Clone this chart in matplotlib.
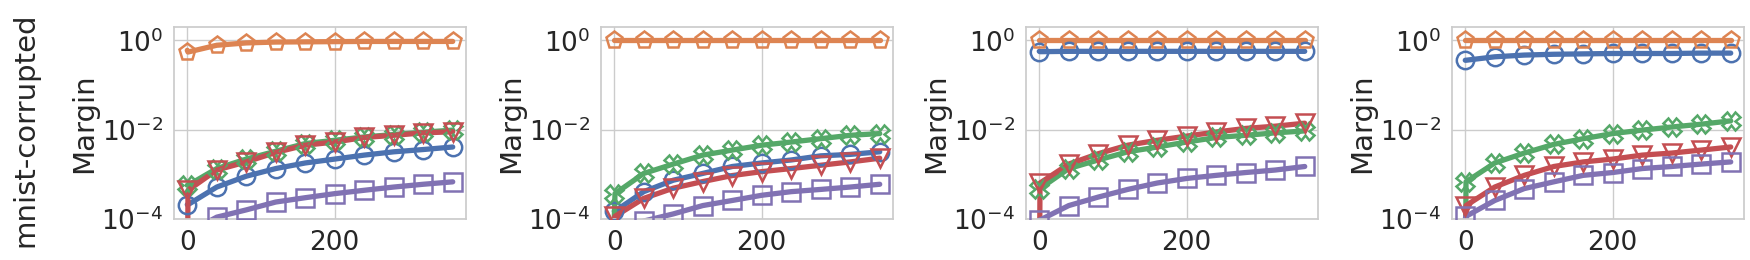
import matplotlib
matplotlib.use("Agg")
import matplotlib.pyplot as plt
import seaborn as sns
import numpy as np

sns.set_theme(style="whitegrid")
plt.rcParams['font.family'] = ['DejaVu Sans']

# marker steps, the line gets one extra point right after step 0
steps = [0, 40, 80, 120, 160, 200, 240, 280, 320, 360]
row_label = "mnist-corrupted"

# values per panel, per series
blue = [
    [2.1e-4, 5.2e-4, 9.1e-4, 1.35e-3, 1.8e-3, 2.2e-3, 2.7e-3, 3.2e-3, 3.6e-3, 4.1e-3],
    [1.5e-4, 4.1e-4, 7.4e-4, 1.05e-3, 1.5e-3, 1.8e-3, 2.1e-3, 2.6e-3, 2.8e-3, 3.2e-3],
    [0.56, 0.57, 0.57, 0.57, 0.57, 0.57, 0.57, 0.57, 0.57, 0.57],
    [0.36, 0.43, 0.47, 0.49, 0.50, 0.51, 0.51, 0.51, 0.52, 0.52],
]
orange = [
    [0.55, 0.78, 0.88, 0.92, 0.93, 0.94, 0.95, 0.95, 0.95, 0.95],
    [1.0, 1.0, 1.0, 1.0, 1.0, 1.0, 1.0, 1.0, 1.0, 1.0],
    [1.0, 1.0, 1.0, 1.0, 1.0, 1.0, 1.0, 1.0, 1.0, 1.0],
    [1.0, 1.0, 1.0, 1.0, 1.0, 1.0, 1.0, 1.0, 1.0, 1.0],
]
green = [
    [5.7e-4, 1.35e-3, 2.2e-3, 3.3e-3, 4.9e-3, 5.8e-3, 6.9e-3, 7.8e-3, 8.8e-3, 9.8e-3],
    [3.7e-4, 1.05e-3, 1.7e-3, 2.7e-3, 3.5e-3, 4.5e-3, 5.3e-3, 6.3e-3, 7.5e-3, 8.2e-3],
    [4.8e-4, 1.35e-3, 2.1e-3, 3.2e-3, 4.1e-3, 5.3e-3, 6.7e-3, 7.5e-3, 8.5e-3, 9.4e-3],
    [6.8e-4, 1.8e-3, 3.0e-3, 4.7e-3, 6.3e-3, 8.2e-3, 9.8e-3, 1.15e-2, 1.33e-2, 1.58e-2],
]
red = [
    [4.4e-4, 1.25e-3, 1.9e-3, 3.1e-3, 4.5e-3, 5.3e-3, 6.7e-3, 7.5e-3, 8.5e-3, 9.0e-3],
    [1.15e-4, 2.9e-4, 4.9e-4, 6.9e-4, 9.4e-4, 1.15e-3, 1.35e-3, 1.6e-3, 1.9e-3, 2.3e-3],
    [6.4e-4, 1.7e-3, 2.9e-3, 4.5e-3, 5.8e-3, 7.2e-3, 8.9e-3, 1.07e-2, 1.2e-2, 1.4e-2],
    [2.0e-4, 5.2e-4, 9.5e-4, 1.5e-3, 1.9e-3, 2.2e-3, 2.7e-3, 3.0e-3, 3.5e-3, 4.1e-3],
]
purple = [
    [5e-5, 1.1e-4, 1.6e-4, 2.4e-4, 3.0e-4, 3.7e-4, 4.4e-4, 5.2e-4, 6.0e-4, 6.8e-4],
    [4e-5, 9e-5, 1.3e-4, 2.0e-4, 2.6e-4, 3.4e-4, 4.1e-4, 4.6e-4, 5.2e-4, 6.0e-4],
    [9.5e-5, 2.0e-4, 3.1e-4, 4.6e-4, 6.4e-4, 8.1e-4, 9.5e-4, 1.1e-3, 1.25e-3, 1.5e-3],
    [1.15e-4, 2.6e-4, 4.8e-4, 6.8e-4, 9.5e-4, 1.1e-3, 1.35e-3, 1.5e-3, 1.7e-3, 1.9e-3],
]
# where the line starts at step 0 (below the axis means it drops off)
line_start = {
    "blue": [2.1e-4, 1.5e-4, 0.57, 0.36],
    "orange": [0.6, 1.0, 1.0, 1.0],
    "green": [5.7e-4, 1e-4, 4.8e-4, 1e-6],
    "red": [1e-6, 1e-4, 1e-6, 1e-6],
    "purple": [5e-5, 4e-5, 9.5e-5, 1.0e-4],
}

pal = sns.color_palette("deep")
series = [
    ("blue", blue, pal[0], "o"),
    ("orange", orange, pal[1], "p"),
    ("green", green, pal[2], "X"),
    ("red", red, pal[3], "v"),
    ("purple", purple, pal[4], "s"),
]

fig = plt.figure(figsize=(17.5, 2.6), dpi=100)
lefts = [174, 601, 1026, 1452]
for i in range(4):
    ax = fig.add_axes([lefts[i] / 1750, 41 / 260, 292 / 1750, 192 / 260])
    for name, vals, col, mk in series:
        line_x = [0, 1] + steps[1:]
        line_y = [line_start[name][i]] + vals[i]
        ax.plot(line_x, line_y, color=col, lw=3.8, zorder=2)
        ax.plot(steps, vals[i], ls="none", marker=mk, ms=12.5, mfc="none",
                mec=col, mew=1.8, zorder=3)
    ax.set_yscale("log")
    ax.set_ylim(1e-4, 2)
    ax.set_xlim(-18, 378)
    ax.set_xticks([0, 200])
    ax.set_yticks([1e-4, 1e-2, 1e0])
    ax.minorticks_off()
    ax.tick_params(labelsize=19, pad=2)
    ax.set_ylabel("Margin", fontsize=21, labelpad=2)
    for s in ax.spines.values():
        s.set_color("#cccccc")

fig.text(25 / 1750, 0.5, row_label, rotation=90, va="center", ha="center", fontsize=21)
fig.savefig("out.png", dpi=100)
